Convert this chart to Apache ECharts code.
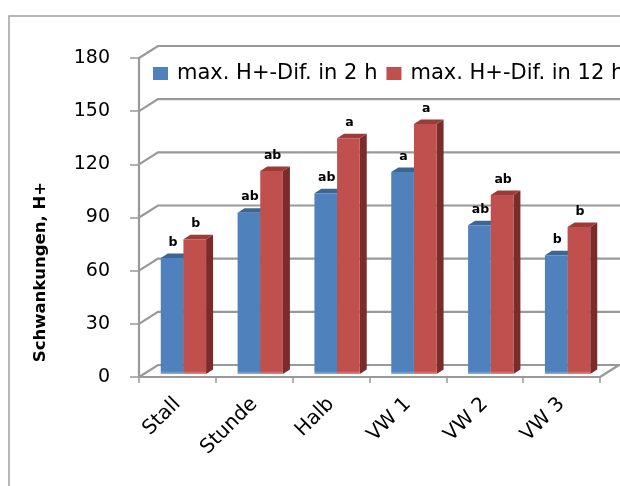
<!DOCTYPE html>
<html>
<head>
<meta charset="utf-8">
<script src="https://cdn.jsdelivr.net/npm/echarts@6/dist/echarts.min.js"></script>
<style>
  html, body { margin: 0; padding: 0; background: #fff; }
  #chart { width: 620px; height: 486px; }
</style>
</head>
<body>
<div id="chart"></div>
<script>
// Data
const categories = ['Stall', 'Stunde', 'Halb', 'VW 1', 'VW 2', 'VW 3'];
const seriesNames = ['max. H+-Dif. in 2 h', 'max. H+-Dif. in 12 h'];
const values2h = [65.5, 91, 102, 114, 84, 67];
const values12h = [76, 114.5, 133, 141, 101, 83];
const letters2h = ['b', 'ab', 'ab', 'a', 'ab', 'b'];
const letters12h = ['b', 'ab', 'a', 'a', 'ab', 'b'];
const yTicks = [0, 30, 60, 90, 120, 150, 180];
const yTitle = 'Schwankungen, H+';

// Styling
const FONT = 'DejaVu Sans';
const GRID_COLOR = '#999999';
const WALL_DX = 19, WALL_DY = -12;     // back wall offset from the front plane
const BAR_DX = 6, BAR_DY = -3;         // bar front face offset from the front plane
const DEPTH_DX = 7, DEPTH_DY = -4.5;   // bar depth
const BAR_FRACTION = 0.295;            // bar width as a share of the category band
const COLORS = [
  { front: '#4f81bd', top: '#3b6593', side: '#2f5480', light: '#8fb0dc' },
  { front: '#c0504d', top: '#9c3b38', side: '#7b2c2a', light: '#dc8f8c' }
];

const chart = echarts.init(document.getElementById('chart'), null, { renderer: 'canvas' });

// Back wall, side wall and floor lines at every value tick
function wallRenderer(params, api) {
  const v = api.value(1);
  const y = api.coord([0, v])[1];
  const cs = params.coordSys;
  const x0 = cs.x, x1 = cs.x + cs.width;
  const children = [{
    type: 'polyline',
    shape: { points: [[x0, y], [x0 + WALL_DX, y + WALL_DY], [x1 + WALL_DX + 40, y + WALL_DY]] },
    style: { stroke: GRID_COLOR, lineWidth: 2.2, fill: null }
  }];
  if (v === 0) {
    children.push({
      type: 'line',
      shape: { x1: x1, y1: y, x2: x1 + WALL_DX, y2: y + WALL_DY },
      style: { stroke: GRID_COLOR, lineWidth: 2.2 }
    });
  }
  return { type: 'group', children: children };
}

// 3D-looking column: side face, top face, front face and a letter label
function barRenderer(side, letters) {
  const c = COLORS[side];
  return function (params, api) {
    const idx = api.value(0), val = api.value(1);
    const top = api.coord([idx, val]);
    const base = api.coord([idx, 0]);
    const band = api.size([1, 0])[0];
    const w = band * BAR_FRACTION;
    const cx = top[0] + BAR_DX;
    const x = side === 0 ? cx - w : cx;
    const yTop = top[1] + BAR_DY;
    const yBot = base[1] + BAR_DY;
    const h = yBot - yTop;
    return {
      type: 'group',
      children: [
        {
          type: 'polygon',
          shape: { points: [[x + w, yTop], [x + w + DEPTH_DX, yTop + DEPTH_DY], [x + w + DEPTH_DX, yBot + DEPTH_DY], [x + w, yBot]] },
          style: { fill: c.side }
        },
        {
          type: 'polygon',
          shape: { points: [[x, yTop], [x + DEPTH_DX, yTop + DEPTH_DY], [x + w + DEPTH_DX, yTop + DEPTH_DY], [x + w, yTop]] },
          style: { fill: c.top }
        },
        {
          type: 'rect',
          shape: { x: x, y: yTop, width: w, height: h },
          style: {
            fill: new echarts.graphic.LinearGradient(0, 0, 0, 1, [
              { offset: 0, color: c.front },
              { offset: Math.max(0, 1 - 3 / h), color: c.front },
              { offset: 1, color: c.light }
            ])
          }
        },
        {
          type: 'text',
          x: x + w / 2 + 1,
          y: yTop - 9,
          style: {
            text: letters[idx],
            font: 'bold 12.5px ' + FONT,
            fill: '#000',
            align: 'center',
            verticalAlign: 'bottom'
          }
        }
      ]
    };
  };
}

const option = {
  backgroundColor: '#fff',
  animation: false,
  grid: { left: 139, right: 20, top: 58, bottom: 109, containLabel: false },
  legend: {
    data: seriesNames,
    left: 148,
    top: 58,
    width: 900,
    orient: 'horizontal',
    icon: 'rect',
    itemWidth: 15,
    itemHeight: 13,
    itemGap: 9,
    textStyle: { fontFamily: FONT, fontSize: 21, color: '#000', padding: [0, 0, 0, 4] }
  },
  xAxis: {
    type: 'category',
    data: categories,
    boundaryGap: true,
    axisLine: { show: true, lineStyle: { color: GRID_COLOR, width: 2.2 } },
    axisTick: { show: true, length: 6, lineStyle: { color: GRID_COLOR, width: 1.5 } },
    axisLabel: {
      interval: 0,
      rotate: 45,
      margin: 24,
      fontFamily: FONT,
      fontSize: 20,
      color: '#000'
    },
    splitLine: { show: false }
  },
  yAxis: {
    type: 'value',
    min: 0,
    max: 180,
    interval: 30,
    axisLine: { show: true, lineStyle: { color: GRID_COLOR, width: 2.2 } },
    axisTick: { show: true, length: 9, lineStyle: { color: GRID_COLOR, width: 1.5 } },
    axisLabel: { margin: 29, fontFamily: FONT, fontSize: 19, color: '#000' },
    splitLine: { show: false }
  },
  graphic: [
    {
      type: 'rect',
      silent: true,
      z: -10,
      shape: { x: 9, y: 16, width: 700, height: 600 },
      style: { fill: 'none', stroke: '#a0a0a0', lineWidth: 1.5 }
    },
    {
      type: 'text',
      x: 41,
      y: 272,
      rotation: Math.PI / 2,
      style: {
        text: yTitle,
        font: 'bold 16.5px ' + FONT,
        fill: '#000',
        align: 'center',
        verticalAlign: 'middle'
      }
    }
  ],
  series: [
    {
      type: 'custom',
      name: 'walls',
      z: 1,
      silent: true,
      renderItem: wallRenderer,
      data: yTicks.map(v => [0, v]),
      encode: { x: 0, y: 1 }
    },
    {
      type: 'custom',
      name: seriesNames[0],
      z: 2,
      itemStyle: { color: COLORS[0].front },
      renderItem: barRenderer(0, letters2h),
      data: values2h.map((v, i) => [i, v]),
      encode: { x: 0, y: 1 }
    },
    {
      type: 'custom',
      name: seriesNames[1],
      z: 3,
      itemStyle: { color: COLORS[1].front },
      renderItem: barRenderer(1, letters12h),
      data: values12h.map((v, i) => [i, v]),
      encode: { x: 0, y: 1 }
    }
  ]
};

chart.setOption(option);
</script>
</body>
</html>
